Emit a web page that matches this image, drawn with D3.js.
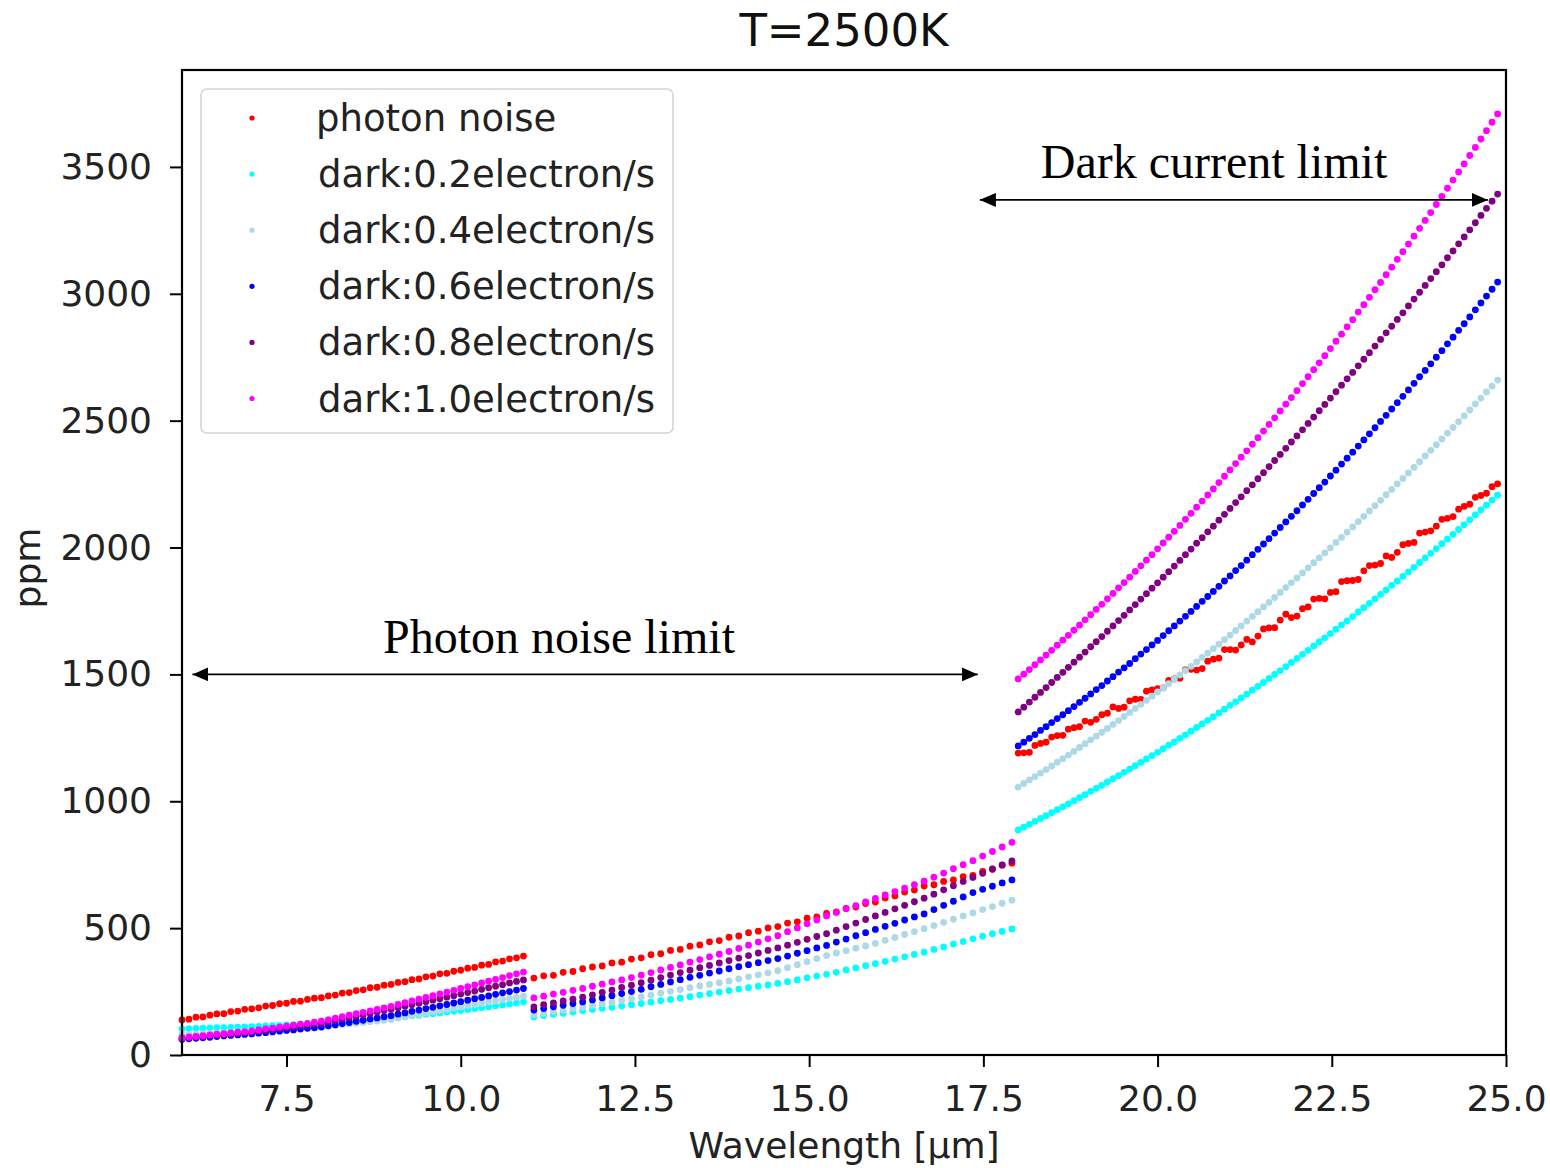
<!DOCTYPE html>
<html>
<head>
<meta charset="utf-8">
<script src="https://cdn.jsdelivr.net/npm/d3@7"></script>
<style>
  body { margin: 0; background: #fff; }
  svg { display: block; }
</style>
</head>
<body>
<svg id="chart" width="1550" height="1168"></svg>
<script>
// Wavelength grid [µm] of the three spectral channels
const wavelength = [
  6.0, 6.1, 6.2, 6.3, 6.4, 6.5, 6.6, 6.7, 6.8, 6.9, 7.0, 7.1, 7.2, 7.3, 7.4, 7.5, 7.6, 7.7, 7.8, 7.9,
  8.0, 8.1, 8.2, 8.3, 8.4, 8.5, 8.6, 8.7, 8.8, 8.9, 9.0, 9.1, 9.2, 9.3, 9.4, 9.5, 9.6, 9.7, 9.8, 9.9,
  10.0, 10.1, 10.2, 10.3, 10.4, 10.5, 10.6, 10.7, 10.8, 10.9,
  11.05, 11.19, 11.33, 11.47, 11.61, 11.75, 11.89, 12.03, 12.17, 12.31, 12.45, 12.59, 12.73, 12.87, 13.01,
  13.15, 13.29, 13.43, 13.57, 13.71, 13.85, 13.99, 14.13, 14.27, 14.41, 14.55, 14.69, 14.83, 14.97, 15.11,
  15.25, 15.39, 15.53, 15.67, 15.81, 15.95, 16.09, 16.23, 16.37, 16.51, 16.65, 16.79, 16.93, 17.07, 17.21,
  17.35, 17.49, 17.63, 17.77, 17.91,
  18.00, 18.08, 18.16, 18.24, 18.32, 18.40, 18.48, 18.56, 18.64, 18.72, 18.80, 18.88, 18.96, 19.04, 19.12,
  19.20, 19.28, 19.36, 19.44, 19.52, 19.60, 19.68, 19.76, 19.84, 19.92, 20.00, 20.08, 20.16, 20.24, 20.32,
  20.40, 20.48, 20.56, 20.64, 20.72, 20.80, 20.88, 20.96, 21.04, 21.12, 21.20, 21.28, 21.36, 21.44, 21.52,
  21.60, 21.68, 21.76, 21.84, 21.92, 22.00, 22.08, 22.16, 22.24, 22.32, 22.40, 22.48, 22.56, 22.64, 22.72,
  22.80, 22.88, 22.96, 23.04, 23.12, 23.20, 23.28, 23.36, 23.44, 23.52, 23.60, 23.68, 23.76, 23.84, 23.92,
  24.00, 24.08, 24.16, 24.24, 24.32, 24.40, 24.48, 24.56, 24.64, 24.72, 24.80, 24.88
];

// Noise [ppm] per wavelength for each case
const photonNoise = [
  138, 141, 149, 150, 157, 162, 163, 171, 173, 180, 182, 186, 193, 195, 202, 204, 211, 212, 219, 224,
  226, 233, 236, 244, 246, 254, 257, 265, 267, 275, 278, 286, 289, 297, 300, 308, 311, 320, 322, 330,
  334, 342, 345, 354, 357, 367, 370, 379, 383, 390,
  303, 312, 314, 326, 329, 340, 347, 351, 363, 366, 378, 383, 395, 399, 412, 416, 429, 434, 446, 451,
  464, 469, 482, 488, 501, 506, 520, 525, 539, 544, 558, 564, 578, 583, 597, 603, 619, 627, 642, 650,
  666, 671, 684, 690, 703, 708, 724, 732, 748, 756,
  1190, 1191, 1193, 1220, 1228, 1233, 1253, 1259, 1260, 1284, 1290, 1294, 1316, 1311, 1323, 1341, 1347,
  1372, 1366, 1371, 1396, 1402, 1401, 1434, 1439, 1444, 1447, 1476, 1482, 1485, 1518, 1520, 1517, 1523,
  1552, 1560, 1564, 1598, 1598, 1596, 1616, 1638, 1628, 1651, 1679, 1683, 1684, 1714, 1737, 1724, 1730,
  1759, 1766, 1797, 1800, 1798, 1823, 1826, 1866, 1869, 1870, 1874, 1908, 1929, 1931, 1937, 1967, 1961,
  1981, 2011, 2016, 2020, 2057, 2061, 2066, 2084, 2111, 2115, 2122, 2151, 2162, 2171, 2198, 2205, 2214,
  2240, 2251
];

const dark02 = [
  103, 104, 105, 106, 107, 108, 108, 109, 110, 111, 112, 113, 115, 116, 117, 119, 120, 121, 122, 124,
  125, 127, 129, 131, 133, 135, 137, 139, 141, 143, 145, 148, 151, 154, 157, 160, 163, 166, 169, 172,
  175, 179, 183, 186, 190, 194, 198, 201, 205, 209,
  150, 155, 160, 164, 169, 174, 179, 184, 188, 193, 198, 203, 208, 214, 219, 224, 230, 236, 242, 248,
  254, 260, 265, 271, 276, 282, 289, 296, 304, 311, 318, 326, 335, 343, 352, 360, 369, 378, 387, 396,
  405, 416, 426, 437, 447, 458, 468, 478, 487, 497,
  887, 898, 909, 921, 932, 943, 955, 967, 978, 990, 1002, 1014, 1026, 1039, 1051, 1063, 1076, 1089,
  1101, 1114, 1127, 1140, 1153, 1167, 1180, 1193, 1207, 1221, 1234, 1248, 1262, 1276, 1291, 1305, 1319,
  1333, 1348, 1363, 1378, 1392, 1407, 1422, 1438, 1453, 1468, 1484, 1500, 1515, 1531, 1547, 1563, 1579,
  1595, 1612, 1628, 1644, 1661, 1678, 1695, 1711, 1728, 1746, 1763, 1780, 1798, 1815, 1833, 1851, 1868,
  1886, 1904, 1922, 1941, 1959, 1977, 1996, 2015, 2033, 2052, 2071, 2090, 2109, 2129, 2148, 2167, 2187,
  2206
];

const dark04 = [
  80, 81, 82, 84, 85, 86, 87, 88, 90, 91, 92, 94, 96, 97, 99, 101, 103, 105, 106, 108,
  110, 113, 116, 119, 122, 125, 128, 131, 134, 137, 140, 145, 150, 155, 160, 165, 170, 175, 180, 185,
  190, 195, 199, 204, 209, 213, 218, 223, 227, 232,
  158, 164, 170, 176, 182, 188, 195, 202, 208, 215, 222, 229, 236, 244, 251, 258, 265, 272, 278, 285,
  292, 300, 308, 316, 324, 332, 344, 356, 368, 380, 392, 402, 411, 421, 430, 440, 452, 463, 475, 486,
  498, 510, 523, 535, 548, 560, 573, 585, 598, 610,
  1056, 1070, 1084, 1097, 1111, 1125, 1139, 1154, 1168, 1182, 1197, 1212, 1227, 1242, 1257, 1272, 1287,
  1303, 1318, 1334, 1350, 1366, 1382, 1398, 1414, 1431, 1447, 1464, 1481, 1498, 1515, 1532, 1549, 1567,
  1584, 1601, 1619, 1637, 1655, 1673, 1691, 1710, 1729, 1747, 1766, 1784, 1803, 1823, 1842, 1861, 1880,
  1900, 1920, 1940, 1959, 1979, 1999, 2020, 2040, 2061, 2081, 2102, 2123, 2144, 2165, 2186, 2208, 2229,
  2251, 2272, 2294, 2316, 2338, 2361, 2383, 2405, 2428, 2451, 2473, 2496, 2519, 2542, 2566, 2589, 2613,
  2636, 2660
];

const dark06 = [
  62, 64, 66, 68, 70, 73, 75, 77, 79, 81, 83, 86, 88, 91, 94, 97, 99, 102, 105, 107,
  110, 115, 119, 124, 128, 133, 137, 142, 146, 151, 155, 161, 166, 172, 177, 183, 188, 194, 199, 205,
  210, 216, 222, 227, 233, 239, 245, 250, 256, 262,
  177, 183, 190, 196, 203, 209, 217, 225, 234, 242, 250, 259, 269, 278, 288, 297, 306, 314, 323, 331,
  340, 348, 356, 364, 372, 380, 390, 401, 411, 422, 432, 445, 457, 470, 482, 495, 507, 519, 532, 544,
  556, 573, 590, 606, 623, 640, 653, 665, 678, 690,
  1218, 1233, 1248, 1263, 1279, 1294, 1310, 1326, 1341, 1357, 1373, 1390, 1406, 1423, 1440, 1456, 1474,
  1491, 1509, 1526, 1543, 1562, 1580, 1598, 1616, 1634, 1653, 1672, 1691, 1710, 1729, 1748, 1768, 1788,
  1807, 1827, 1847, 1868, 1888, 1909, 1929, 1950, 1972, 1993, 2014, 2035, 2057, 2079, 2101, 2123, 2145,
  2168, 2190, 2213, 2236, 2258, 2282, 2305, 2329, 2352, 2376, 2400, 2424, 2448, 2472, 2497, 2521, 2546,
  2571, 2596, 2621, 2647, 2673, 2698, 2724, 2750, 2776, 2803, 2829, 2856, 2882, 2909, 2937, 2964, 2991,
  3018, 3046
];

const dark08 = [
  66, 68, 71, 73, 76, 78, 80, 83, 85, 88, 90, 94, 97, 101, 104, 108, 111, 115, 118, 122,
  125, 131, 136, 142, 147, 153, 158, 164, 169, 175, 180, 186, 192, 198, 204, 210, 216, 222, 228, 234,
  240, 246, 252, 259, 265, 271, 277, 284, 290, 296,
  190, 198, 205, 213, 220, 228, 237, 247, 256, 266, 275, 285, 295, 305, 315, 325, 334, 344, 353, 363,
  372, 382, 392, 402, 412, 422, 433, 444, 456, 467, 478, 492, 506, 520, 534, 548, 562, 576, 590, 604,
  618, 634, 651, 667, 684, 700, 716, 733, 749, 765,
  1352, 1371, 1391, 1410, 1429, 1448, 1468, 1488, 1508, 1528, 1548, 1568, 1588, 1609, 1629, 1649, 1670,
  1691, 1712, 1733, 1754, 1775, 1797, 1818, 1840, 1861, 1883, 1905, 1927, 1949, 1972, 1994, 2017, 2039,
  2062, 2084, 2108, 2131, 2154, 2177, 2200, 2224, 2247, 2271, 2295, 2319, 2343, 2367, 2391, 2416, 2440,
  2464, 2489, 2514, 2539, 2564, 2589, 2614, 2640, 2665, 2690, 2716, 2742, 2768, 2794, 2820, 2846, 2872,
  2899, 2925, 2952, 2979, 3006, 3033, 3060, 3087, 3114, 3142, 3169, 3197, 3224, 3252, 3280, 3309, 3337,
  3365, 3393
];

const dark10 = [
  68, 71, 73, 76, 79, 82, 84, 87, 90, 92, 95, 99, 103, 106, 110, 114, 118, 122, 125, 129,
  133, 139, 145, 151, 157, 163, 168, 174, 180, 186, 192, 199, 206, 213, 220, 227, 234, 241, 248, 255,
  262, 269, 276, 284, 291, 298, 305, 313, 320, 327,
  225, 232, 240, 247, 255, 262, 271, 279, 288, 296, 305, 315, 325, 335, 345, 355, 366, 376, 387, 397,
  408, 420, 433, 445, 458, 470, 486, 501, 517, 532, 548, 562, 576, 589, 603, 617, 631, 644, 658, 671,
  685, 701, 717, 734, 750, 766, 784, 802, 820, 838,
  1482, 1501, 1519, 1538, 1557, 1576, 1595, 1615, 1635, 1654, 1674, 1694, 1715, 1735, 1756, 1776, 1798,
  1819, 1841, 1862, 1883, 1906, 1928, 1950, 1972, 1995, 2018, 2041, 2064, 2087, 2111, 2135, 2159, 2183,
  2207, 2231, 2256, 2281, 2306, 2331, 2356, 2381, 2407, 2433, 2459, 2485, 2511, 2538, 2565, 2591, 2618,
  2646, 2673, 2701, 2728, 2756, 2784, 2813, 2841, 2870, 2898, 2928, 2957, 2986, 3016, 3045, 3075, 3105,
  3136, 3166, 3196, 3227, 3258, 3289, 3320, 3352, 3384, 3416, 3448, 3480, 3512, 3545, 3577, 3610, 3643,
  3676, 3709
];

const seriesLabels = ["photon noise", "dark:0.2electron/s", "dark:0.4electron/s",
                      "dark:0.6electron/s", "dark:0.8electron/s", "dark:1.0electron/s"];
const seriesColors = ["#ff0000", "#00ffff", "#add8e6", "#0000ff", "#800080", "#ff00ff"];
const seriesValues = [photonNoise, dark02, dark04, dark06, dark08, dark10];

const xTicks = [7.5, 10.0, 12.5, 15.0, 17.5, 20.0, 22.5, 25.0];
const yTicks = [0, 500, 1000, 1500, 2000, 2500, 3000, 3500];

const FONT = "'DejaVu Sans', sans-serif";
const SERIF = "'Liberation Serif', 'Times New Roman', serif";

const plot = { left: 182, right: 1506, top: 70, bottom: 1055 };
const x = d3.scaleLinear().domain([6, 25]).range([plot.left, plot.right]);
const y = d3.scaleLinear().domain([0, 3882]).range([plot.bottom, plot.top]);

const svg = d3.select("#chart");

// Scatter points, drawn series by series
const pointLayer = svg.append("g");
seriesValues.forEach((vals, i) => {
  const pts = wavelength.map((w, j) => ({ w, v: vals[j] })).filter(d => d.v != null);
  pointLayer.append("g")
    .attr("fill", seriesColors[i])
    .selectAll("circle")
    .data(pts)
    .join("circle")
    .attr("cx", d => x(d.w))
    .attr("cy", d => y(d.v))
    .attr("r", 3.4);
});

// Axes
const xAxis = svg.append("g")
  .attr("transform", `translate(0,${plot.bottom})`)
  .call(d3.axisBottom(x).tickValues(xTicks).tickFormat(d3.format(".1f"))
        .tickSize(12).tickPadding(18));
const yAxis = svg.append("g")
  .attr("transform", `translate(${plot.left},0)`)
  .call(d3.axisLeft(y).tickValues(yTicks).tickFormat(d3.format("d"))
        .tickSize(12).tickPadding(18));
[xAxis, yAxis].forEach(g => {
  g.select(".domain").remove();
  g.selectAll(".tick line").attr("stroke", "#000").attr("stroke-width", 2);
  g.selectAll(".tick text").attr("fill", "#222").style("font-family", FONT).style("font-size", "36px");
});

// Plot frame
svg.append("rect")
  .attr("x", plot.left).attr("y", plot.top)
  .attr("width", plot.right - plot.left).attr("height", plot.bottom - plot.top)
  .attr("fill", "none").attr("stroke", "#000").attr("stroke-width", 2.2);

// Title and axis labels
svg.append("text")
  .attr("x", (plot.left + plot.right) / 2).attr("y", 46)
  .attr("text-anchor", "middle")
  .style("font-family", FONT).style("font-size", "45px").attr("fill", "#111")
  .text("T=2500K");
svg.append("text")
  .attr("x", (plot.left + plot.right) / 2).attr("y", 1158)
  .attr("text-anchor", "middle")
  .style("font-family", FONT).style("font-size", "36px").attr("fill", "#222")
  .text("Wavelength [µm]");
svg.append("text")
  .attr("transform", `translate(40,568) rotate(-90)`)
  .attr("text-anchor", "middle")
  .style("font-family", FONT).style("font-size", "36px").attr("fill", "#222")
  .text("ppm");

// Legend
const legend = svg.append("g");
legend.append("rect")
  .attr("x", 201).attr("y", 89).attr("width", 472).attr("height", 344).attr("rx", 6)
  .attr("fill", "#fff").attr("fill-opacity", 0.85)
  .attr("stroke", "#d4d4d4").attr("stroke-width", 1.6);
seriesLabels.forEach((label, i) => {
  const cy = 118 + i * 56.1;
  legend.append("circle").attr("cx", 252).attr("cy", cy).attr("r", 2.6).attr("fill", seriesColors[i]);
  legend.append("text")
    .attr("x", i === 0 ? 316 : 318).attr("y", cy + 13)
    .style("font-family", FONT).style("font-size", "37px").attr("fill", "#222")
    .text(label);
});

// Annotations: regimes with double-headed arrows
const defs = svg.append("defs");
defs.append("marker")
  .attr("id", "head").attr("viewBox", "0 0 16 14").attr("refX", 16).attr("refY", 7)
  .attr("markerWidth", 16).attr("markerHeight", 14).attr("markerUnits", "userSpaceOnUse")
  .attr("orient", "auto-start-reverse")
  .append("path").attr("d", "M0,0 L16,7 L0,14 Z").attr("fill", "#000");

const annotations = [
  { text: "Photon noise limit", from: 6.15, to: 17.42, level: 1500, textAt: 11.41, textLevel: 1585 },
  { text: "Dark current limit", from: 17.45, to: 24.74, level: 3370, textAt: 20.81, textLevel: 3457 }
];
annotations.forEach(a => {
  svg.append("line")
    .attr("x1", x(a.from)).attr("x2", x(a.to))
    .attr("y1", y(a.level)).attr("y2", y(a.level))
    .attr("stroke", "#000").attr("stroke-width", 1.8)
    .attr("marker-start", "url(#head)").attr("marker-end", "url(#head)");
  svg.append("text")
    .attr("x", x(a.textAt)).attr("y", y(a.textLevel))
    .attr("text-anchor", "middle")
    .style("font-family", SERIF).style("font-size", "48px").attr("fill", "#000")
    .text(a.text);
});
</script>
</body>
</html>
